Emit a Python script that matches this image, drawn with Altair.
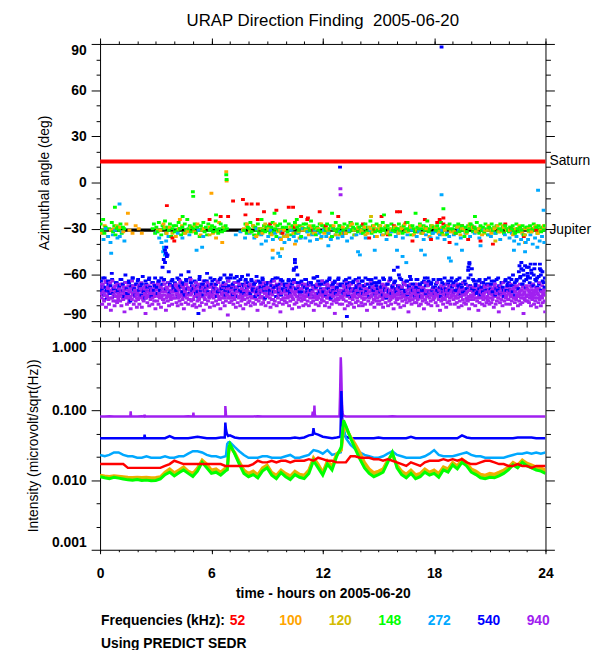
import altair as alt
import pandas as pd

# ---------------------------------------------------------------- data
FREQS = ["52", "100", "120", "148", "272", "540", "940"]
COLORS = ["#ff0000", "#ffa500", "#d4bc00", "#00ff00", "#00a8ff", "#0000ff", "#a020f0"]

TITLE = "URAP Direction Finding \u00a02005-06-20"
PLANETS = ["Saturn", "Jupiter"]
PLANET_ANGLES = [13.7, -30.9]
PLANET_COLORS = ["#ff0000", "#000000"]

# Azimuth (deg, values listed as magnitudes of negative angles), one string per hour, "x" = no sample
AZ_940 = [
    "72 68 75 79 66 71 77 73 64 81 70 74 68 76 79 72 65 83 71 75 69 77 73 80 67 74 71 78 70 76",
    "74 69 77 71 80 66 73 76 70 84 72 68 75 79 73 65 78 71 74 82 69 76 72 67 79 74 70 77 73 81",
    "71 76 68 79 73 66 75 81 70 74 77 69 72 85 75 67 78 71 73 80 68 76 74 70 79 72 66 77 74 82",
    "73 70 77 66 79 72 75 68 81 74 71 76 64 78 73 70 83 75 69 77 72 80 67 74 76 71 79 73 68 75",
    "70 75 67 78 72 80 69 74 77 65 73 79 71 76 68 82 74 70 78 66 75 72 79 69 76 73 63 77 71 80",
    "76 71 79 68 74 81 70 77 73 66 75 80 72 69 78 74 67 83 71 76 73 79 70 65 77 72 75 81 68 74",
    "72 78 69 75 80 67 73 77 71 64 79 74 70 76 82 68 75 72 78 66 74 80 71 77 69 73 86 75 70 78",
    "75 70 77 73 66 79 72 76 68 81 74 71 78 65 75 70 80 73 77 69 74 82 71 76 67 79 73 70 75 78",
    "71 77 73 80 68 75 70 78 66 74 79 72 76 69 83 73 77 70 75 67 79 74 71 78 65 76 72 80 69 74",
    "74 69 78 72 75 81 67 76 73 70 79 64 77 71 74 80 68 75 72 78 70 84 73 76 66 79 71 75 77 70",
    "73 78 70 75 67 80 72 77 69 74 82 71 76 65 79 73 70 78 74 68 76 81 72 75 69 77 73 66 80 74",
    "76 71 79 74 68 77 72 80 70 75 66 78 73 71 77 83 69 74 79 72 76 67 75 80 71 73 78 70 76 74",
    "72 77 69 80 74 71 78 66 75 73 81 70 76 72 79 68 74 77 71 85 73 69 78 75 70 76 72 79 67 74",
    "75 79 71 76 68 82 73 77 70 74 80 72 67 78 75 71 79 73 76 69 81 74 72 78 70 75 77 66 80 73",
    "74 70 78 73 80 67 76 72 79 75 69 83 73 77 71 75 68 79 74 70 78 72 76 81 69 74 77 71 75 79",
    "71 77 74 69 79 72 76 81 68 75 73 78 70 74 66 80 73 77 71 76 79 69 75 72 82 74 70 78 73 76",
    "76 72 79 70 75 81 73 68 77 74 71 80 66 76 73 78 70 75 84 72 77 69 74 79 71 76 73 68 78 75",
    "73 78 70 76 72 80 67 75 79 71 74 77 69 82 73 76 70 78 74 65 79 72 75 71 77 80 73 69 76 74",
    "75 71 78 73 69 80 74 76 70 83 72 77 68 75 79 73 71 76 74 81 70 78 72 67 77 75 79 71 74 73",
    "72 76 70 79 74 67 78 73 75 81 71 77 69 74 80 72 76 70 78 73 66 79 75 71 77 74 82 70 76 73",
    "74 79 71 76 73 68 80 75 72 77 70 83 74 78 71 75 69 79 73 76 72 80 67 75 78 71 74 77 70 79",
    "71 75 78 70 76 73 81 68 74 79 72 77 70 75 84 73 78 71 76 69 80 74 72 77 70 75 79 73 67 76",
    "76 72 79 74 70 77 73 82 69 75 78 71 76 73 68 80 74 77 71 79 75 70 78 73 85 72 76 69 77 74",
    "73 77 70 78 75 72 80 68 76 74 71 79 73 77 70 81 75 72 78 69 76 74 80 71 75 78 73 70 77 84",
]
AZ_940_B = [
    "70 66 73 68 76 71 65 74 69 72 67 75 70 64 73 68 71 77 66 72",
    "69 73 66 71 75 68 72 65 74 70 67 76 71 69 64 73 68 72 66 75",
    "72 67 74 69 65 71 76 68 73 66 70 74 67 72 69 65 75 70 68 73",
    "68 72 65 74 70 67 73 69 76 66 71 68 74 65 72 70 67 75 69 71",
    "71 66 73 68 75 70 64 72 67 74 69 71 66 73 68 76 70 65 72 69",
    "67 74 70 65 72 68 76 71 66 73 69 64 75 70 67 72 68 74 66 71",
    "73 68 71 66 74 69 72 65 76 70 67 73 68 71 75 66 72 69 64 74",
    "69 72 67 75 70 65 73 68 71 74 66 72 69 76 67 70 73 65 71 68",
    "72 66 74 69 71 67 75 70 64 73 68 72 66 74 70 67 75 69 72 65",
    "68 73 70 65 72 69 76 67 71 74 66 70 73 68 64 72 69 75 67 71",
    "71 67 74 69 66 73 70 75 68 72 65 71 74 67 70 73 66 69 76 68",
    "66 72 69 74 67 71 65 73 70 68 75 69 72 66 74 70 67 73 71 64",
    "73 69 66 72 75 68 71 67 74 70 65 72 68 76 69 73 66 71 70 74",
    "70 74 67 72 69 65 73 71 68 75 66 70 74 69 72 67 71 64 73 68",
    "67 71 75 68 73 70 66 72 69 74 71 65 73 68 70 76 67 72 69 71",
    "72 68 70 74 66 71 73 67 75 69 72 64 70 74 68 71 66 73 69 75",
    "69 73 67 71 75 68 72 65 70 74 67 72 69 76 66 71 73 68 70 72",
    "71 66 74 70 67 73 69 75 68 72 65 71 74 67 70 73 66 72 69 74",
    "68 72 70 65 73 69 74 67 71 76 68 70 72 66 74 69 71 67 73 70",
    "73 67 71 75 69 66 72 70 74 68 71 65 73 69 72 76 67 70 74 68",
    "70 74 68 72 66 71 75 69 67 73 70 72 65 74 68 71 69 76 67 72",
    "67 71 73 69 74 66 70 72 68 75 71 67 73 69 65 72 70 74 68 71",
    "72 69 66 73 70 75 68 71 67 74 69 72 66 70 73 68 75 71 69 67",
    "69 73 71 67 74 70 66 72 75 68 71 69 73 65 70 74 67 72 70 73",
]
AZ_540 = [
    "66 70 62 73 68 75 64 71 67 59 72 69 74 65 70",
    "68 63 71 66 74 60 69 72 65 77 67 62 70 73 66",
    "64 70 67 73 61 69 75 66 71 63 68 74 65 70 62",
    "67 72 64 70 62 55 50 44 42 47 58 66 71 63 69",
    "65 70 62 74 67 60 71 66 73 63 69 58 72 65 70",
    "69 64 72 67 75 61 70 66 73 64 68 59 71 67 74",
    "66 71 63 69 74 65 70 62 72 67 60 73 68 64 71",
    "62 68 73 65 70 61 74 67 63 71 66 72 64 69 60",
    "67 72 64 70 66 74 61 69 73 65 71 63 68 75 66",
    "70 65 72 67 63 71 68 74 62 69 66 73 64 70 67",
    "66 70 63 72 68 64 57 52 55 60 69 73 65 71 67",
    "68 63 71 66 73 65 70 62 74 67 61 72 66 69 64",
    "71 66 73 64 69 62 75 67 70 65 72 68 63 70 66",
    "67 72 64 70 66 73 62 69 74 65 71 63 68 72 66",
    "70 64 72 67 62 71 66 74 68 63 70 65 73 67 69",
    "65 71 67 73 63 69 75 66 70 62 72 68 57 64 71",
    "55 60 68 63 72 66 70 64 73 67 61 71 66 69 74",
    "68 63 71 66 74 65 70 62 72 67 64 73 66 70 63",
    "72 66 70 63 68 74 65 71 62 69 73 66 70 64 68",
    "66 71 64 70 67 62 73 68 65 71 66 69 57 53 60",
    "56 63 70 66 72 64 69 73 65 71 67 63 70 66 72",
    "69 64 71 66 73 63 70 67 72 65 68 74 64 70 66",
    "65 70 63 71 67 73 64 69 58 62 56 66 60 54 63",
    "59 55 62 57 66 60 53 64 68 61 56 70 58 65 62",
]
AZ_540_B = [
    "64 68 62 70 66 72 63 69 65 71", "67 63 70 65 72 64 68 62 69 66", "63 69 66 71 64 68 62 70 65 67",
    "68 64 70 66 63 69 65 71 64 67", "66 70 63 68 65 72 64 69 62 67", "69 65 71 63 68 66 70 64 67 62",
    "64 68 66 71 63 69 65 70 62 67", "60 66 62 68 64 70 61 67 63 65", "67 63 69 65 71 64 68 62 70 66",
    "65 70 64 68 62 67 71 63 69 66", "68 64 70 66 63 69 65 71 64 67", "63 69 65 70 67 62 68 64 71 66",
    "70 65 68 63 71 66 64 69 62 67", "66 71 63 68 65 70 64 69 67 62", "69 64 67 71 63 68 66 70 62 65",
    "64 68 62 70 66 71 63 67 65 69", "67 62 69 65 71 64 68 63 70 66", "63 69 66 70 64 67 62 71 65 68",
    "68 65 71 63 69 66 70 64 67 62", "65 70 63 68 66 71 64 69 62 67", "69 64 67 71 63 68 65 70 66 62",
    "66 71 64 69 62 68 65 70 63 67", "62 67 60 65 63 69 61 66 64 68", "61 65 59 67 63 62 66 60 64 68",
]
AZ_148 = [
    "27 31 24 33 29 x x 30 x 26 32 28 34 30 29",
    "31 27 33 29 30 x x x x x x x x x x",
    "x x x x x x x x x x x x 30 27 33",
    "29 32 26 31 34 28 30 25 33 29 31 27 35 30 28",
    "32 28 31 26 30 34 29 33 27 31 24 30 28 32 29",
    "30 27 33 29 31 35 28 30 26 32 29 34 27 31 30",
    "28 32 29 25 31 33 30 27 32 29 31 28 30 x x",
    "x x x x x x x x x x x 31 27 33 29",
    "30 26 32 28 34 29 31 27 33 30 24 31 28 32 29",
    "31 28 33 29 26 32 30 35 28 31 27 33 29 30 25",
    "29 32 27 31 34 28 30 26 33 29 31 28 35 30 27",
    "30 27 32 29 31 25 33 28 30 34 29 31 27 32 28",
    "32 29 31 27 33 30 28 35 29 31 26 32 30 28 33",
    "29 31 27 33 30 28 32 26 31 29 34 30 27 32 29",
    "31 28 33 30 27 32 29 31 25 33 28 30 32 27 31",
    "28 32 30 26 31 29 33 28 30 34 27 31 29 32 30",
    "30 27 31 29 33 28 32 30 26 31 29 34 28 30 32",
    "32 29 31 27 30 33 28 31 29 25 32 30 28 33 29",
    "29 31 28 32 30 26 33 29 31 28 34 30 27 31 30",
    "31 28 33 29 27 32 30 28 31 35 29 32 28 30 27",
    "28 32 29 31 26 30 33 28 31 29 32 27 30 34 29",
    "30 27 31 29 33 28 32 30 27 31 29 33 28 30 31",
    "32 29 30 28 31 33 27 30 32 29 31 28 34 30 29",
    "29 31 28 32 30 27 31 29 33 28 30 32 29 31 28",
]
AZ_272 = [
    "33 37 30 35 39 34 31 36", "35 32 38 x x x x x", "x x x x x x x x",
    "32 36 39 42 38 35 x x", "x 33 x 36 x x 34 x", "x x 31 x 35 x x x",
    "x x x x x x x x", "x x 34 x 32 x 36 x", "33 x 36 30 x 34 x 38",
    "35 31 37 33 x 36 32 39", "34 37 31 35 38 33 36 30", "36 32 38 34 31 37 33 35",
    "31 35 33 37 30 34 36 32", "35 33 38 31 36 x 34 x", "33 x 36 x 31 x 35 x",
    "x 34 x 37 x 32 x 35", "33 x 36 x 34 x 31 x", "35 32 x 37 34 x 36 33",
    "32 36 34 31 37 33 35 x", "34 x 31 36 x 33 x 35", "x 33 x 36 x 31 x 34",
    "35 x 33 x 37 x 34 x", "36 33 38 35 40 37 34 39", "37 34 40 36 42 38 35 39",
]
AZ_100 = [
    "33 28 35 31 30 x", "29 32 27 31 33 28", "30 33 x x x x", "x 31 27 33 29 x",
    "35 30 28 33 31 29", "32 27 34 30 x 29", "33 36 26 39 x x", "x x x x 30 27",
    "32 28 35 30 33 29", "30 34 27 32 37 31", "35 29 33 28 36 31", "31 34 29 33 30 27",
    "33 30 36 28 32 34", "29 33 31 27 34 30", "32 29 33 30 28 35", "30 34 28 32 31 29",
    "33 30 27 32 29 34", "31 28 33 30 35 29", "30 33 29 31 28 32", "32 29 34 30 33 27",
    "29 32 30 34 31 28", "33 30 28 32 29 31", "31 34 30 28 33 30", "30 32 29 33 31 28",
]
AZ_120 = [
    "x 30 x x 28", "x x x x x", "x x x x x", "31 x 29 x 33", "x 30 x 32 x", "28 x 31 x 34",
    "x 32 x 29 x", "x x x 31 28", "32 29 34 30 27", "30 33 28 31 35", "34 30 27 32 29",
    "31 28 33 30 36", "29 32 30 34 28", "33 30 28 31 29", "31 34 29 32 30", "28 31 33 30 29",
    "32 29 31 28 34", "30 33 29 31 28", "29 31 34 30 32", "33 28 30 32 29", "30 32 29 33 31",
    "31 29 32 28 30", "29 33 30 31 34", "32 30 28 31 29",
]
AZ_52 = [
    "x x x", "x x x", "x x x", "x x x", "x x x", "x x x", "x 22 x", "12 x 21",
    "14 24 19", "27 18 33", "16 29 22", "24 31 19", "28 35 22", "33 26 x", "27 36 31",
    "22 34 28", "19 26 38", "32 24 37", "26 23 39", "33 28 37", "29 38 x", "40 31 27",
    "30 x 35", "x 31 x",
]
# isolated samples: (hour, signed azimuth)
AZ_EXTRA = {
    "52": [(3.6, -15), (3.9, -36), (4.0, -38), (5.9, -24), (6.9, -22), (7.7, -11), (7.9, -14),
           (8.5, -14), (10.4, -16), (11.2, -23), (16.0, -19), (18.3, -24), (18.5, -27)],
    "100": [(6.8, 7), (6.82, 1), (6.0, -7), (1.5, -20), (4.3, -24), (9.3, -44), (10.5, -40), (22.9, -39)],
    "120": [(9.8, -43), (14.6, -22), (21.3, -38)],
    "148": [(6.8, 5), (6.82, 2), (5.0, -6), (5.02, -9), (0.8, -16), (4.45, -22), (6.25, -21),
            (12.5, -20), (15.3, -21), (20.2, -22), (17.0, -20), (9.4, -20), (10.6, -24), (18.5, -17)],
    "272": [(1.05, -14), (3.4, -45), (3.5, -47), (3.45, -43), (9.6, -46), (9.7, -48), (9.3, -49),
            (13.9, -45), (14.0, -47), (14.8, -44), (16.3, -48), (16.5, -52), (16.0, -44), (17.3, -44),
            (17.5, -47), (18.4, -8), (18.8, -49), (18.9, -51), (19.2, -40), (19.5, -44), (23.6, -5),
            (23.9, -18), (22.3, -44), (22.9, -45), (0.6, -46), (5.2, -44), (5.5, -42), (8.7, -40),
            (12.3, -41), (20.5, -41)],
    "540": [(3.55, -46), (3.6, -48), (3.5, -52), (10.5, -50), (10.45, -56), (12.93, 10), (19.9, -52),
            (19.85, -55), (22.6, -54), (22.7, -52), (22.8, -57), (23.0, -55), (23.2, -53), (23.4, -56),
            (23.7, -53), (23.75, -57), (13.3, -87), (5.3, -85), (18.4, 88)],
    "940": [(12.95, -4), (12.96, -8)],
}

# Intensity (1e-3 microvolt/sqrt(Hz)), 4 samples per hour (h, h+.25, h+.5, h+.75) + value at 24 h
INT_940 = ["82 82 83 82", "82 82 82 82", "82 83 82 82", "82 82 82 82", "82 82 82 83", "82 82 82 82",
           "82 82 82 82", "82 82 82 82", "82 82 83 82", "82 82 82 82", "82 82 82 82", "82 82 82 82",
           "82 82 82 82", "x 82 82 82", "82 82 82 82", "82 82 82 83", "82 82 82 82", "82 82 82 82",
           "82 82 82 82", "82 82 82 82", "82 82 82 82", "82 82 82 82", "82 82 82 82", "82 82 82 82"]
END_940 = 82
INT_540 = ["40 40 40 40", "40 40 40 40", "40 40 40 40", "40 40 40 43", "40 40 40 40", "41 42 41 40",
           "40 40 41 x", "44 41 40 40", "40 40 40 40", "40 40 40 40", "40 40 41 40", "41 44 x 45",
           "42 41 40 41", "x 42 40 40", "40 40 40 40", "41 40 40 40", "40 40 40 42", "40 40 40 40",
           "40 40 40 40", "40 40 44 41", "40 40 40 40", "40 40 40 40", "40 40 41 41", "41 41 40 40"]
END_540 = 40
INT_272 = ["23 22 23 25", "25 23 22 22", "21 21 22 21", "21 21 22 21", "21 22 22 24", "26 26 25 23",
           "22 22 21 22", "35 30 26 23", "21 21 21 22", "22 21 21 21", "22 23 21 21", "22 23 27 26",
           "24 27 23 24", "x 40 32 28", "25 23 22 21", "21 22 24 26", "23 22 21 21", "21 21 22 24",
           "27 23 22 22", "22 23 24 25", "23 22 22 21", "21 21 21 21", "22 23 24 24", "25 24 25 24"]
END_272 = 25
INT_148 = ["11.2 10.8 10.5 11.0", "10.7 10.4 10.1 10.0", "10.2 9.9 10.0 9.8", "9.9 10.4 12.0 13.0",
           "11.5 12.8 14.0 12.5", "11.3 13.5 18.0 15.0", "12.5 13.0 11.8 13.5", "33.0 24.0 17.0 12.5",
           "11.2 12.0 10.8 13.5", "15.0 11.8 10.5 12.8", "11.2 10.2 12.0 11.0", "10.5 12.5 19.0 15.0",
           "11.8 17.0 14.0 22.0", "30.0 60.0 40.0 28.0", "20.0 15.0 12.5 11.2", "12.0 13.0 18.0 25.0",
           "15.0 12.0 10.8 12.5", "10.5 11.2 13.0 11.8", "12.5 11.0 14.0 13.0", "16.5 14.5 18.0 16.0",
           "13.0 12.0 10.8 10.5", "11.0 10.8 11.5 12.5", "14.0 16.5 15.0 18.0", "16.0 15.0 14.0 13.5"]
END_148 = 12.5
INT_120 = ["11.5 11.2 11.0 11.3", "11.1 10.9 10.7 10.6", "10.7 10.6 10.7 10.5", "10.6 10.9 12.5 14.0",
           "12.2 13.5 15.0 13.0", "12.0 14.5 19.0 16.0", "13.5 14.0 12.5 14.5", "31.0 24.5 18.0 13.5",
           "12.0 13.0 11.5 14.5", "16.0 12.5 11.2 13.5", "12.0 11.0 13.0 11.8", "11.2 13.5 20.0 16.5",
           "12.5 18.0 15.0 23.0", "28.0 58.0 41.0 31.0", "23.0 17.0 13.5 12.0", "12.8 14.0 19.0 24.0",
           "16.0 13.0 11.5 13.5", "11.2 12.0 14.0 12.5", "13.5 12.0 15.0 14.0", "17.5 15.5 19.5 17.0",
           "14.0 13.0 11.5 11.2", "11.8 11.5 12.5 13.5", "15.0 17.5 16.0 19.0", "17.0 16.0 15.0 14.5"]
END_120 = 13.0
INT_100 = ["11.8 11.5 11.3 11.6", "11.4 11.2 11.0 10.9", "11.0 10.9 11.0 10.8", "10.9 11.2 13.0 14.5",
           "12.8 14.0 15.5 13.5", "12.5 15.0 19.5 17.0", "14.0 14.5 13.0 15.0", "30.0 25.0 18.5 14.0",
           "12.5 13.5 12.0 15.0", "16.5 13.0 11.8 14.0", "12.5 11.5 13.5 12.2", "11.8 14.0 21.0 17.0",
           "13.0 19.0 16.0 24.0", "27.0 55.0 42.0 33.0", "25.0 18.0 14.5 12.8", "13.5 14.5 19.5 23.0",
           "16.5 13.5 12.2 14.0", "12.0 12.5 14.5 13.0", "14.0 12.5 15.5 14.5", "18.0 16.0 20.0 18.0",
           "14.5 13.5 12.2 11.8", "12.5 12.2 13.0 14.0", "15.5 18.0 16.5 19.5", "17.5 16.5 15.5 15.0"]
END_100 = 14.0
INT_52 = ["17 17 17 17", "17 17 15 15", "15 15 15 15", "15 15 16 17", "19 18 17 17", "17 17 17 17",
          "17 17 17 16", "16 16 16 16", "16 17 19 18", "18 19 18 19", "19 18 19 19", "19 20 19 21",
          "20 19 19 18", "18 18 22 22", "21 21 21 20", "20 19 20 19", "18 17 16 18", "17 16 18 19",
          "19 19 20 19", "20 19 20 18", "17 17 18 19", "19 18 17 17", "16 16 17 16", "16 15 16 16"]
END_52 = 16
# short bursts: (hour, 1e-3 microvolt/sqrt(Hz))
INT_SPIKES = {
    "940": [(1.63, 82), (1.65, 97), (1.67, 82), (2.38, 82), (2.4, 87), (2.42, 82), (5.01, 82), (5.03, 93),
            (5.05, 82), (6.73, 82), (6.75, 116), (6.77, 100), (6.79, 82), (11.43, 82), (11.46, 96), (11.5, 82),
            (11.53, 82), (11.55, 118), (11.57, 90), (11.6, 82), (12.9, 82), (12.93, 160), (12.95, 300),
            (12.97, 580), (12.99, 420), (13.01, 250), (13.03, 140), (13.06, 95), (13.1, 84)],
    "540": [(2.38, 40), (2.4, 45), (2.43, 40), (6.72, 41), (6.75, 67), (6.78, 55), (6.82, 48), (6.86, 45),
            (6.9, 43), (11.46, 45), (11.5, 56), (11.54, 47), (12.95, 42), (12.98, 90), (13.0, 190),
            (13.02, 140), (13.04, 85), (13.06, 70), (13.09, 60), (13.13, 48), (13.18, 43)],
    "272": [(6.78, 22), (6.85, 33), (6.92, 35), (12.97, 25), (13.05, 55), (13.1, 60)],
    "148": [(6.85, 14), (6.95, 30), (13.12, 72)],
    "120": [(6.86, 14.5), (6.95, 29), (13.13, 66)],
    "100": [(6.86, 15), (6.95, 28), (13.14, 62)],
    "52": [],
}

# ---------------------------------------------------------------- tables
def azimuth_rows(rows, freq, extras=True):
    out = []
    for h, row in enumerate(rows):
        vals = row.split()
        n = len(vals)
        for j, v in enumerate(vals):
            if v != "x":
                out.append({"t": h + (j + 0.5) / n, "a": -float(v), "f": freq})
    if extras:
        for t, a in AZ_EXTRA.get(freq, []):
            out.append({"t": t, "a": float(a), "f": freq})
    return out


def intensity_rows(rows, end, freq):
    out = []
    for h, row in enumerate(rows):
        for j, v in enumerate(row.split()):
            if v != "x":
                out.append((h + j * 0.25, float(v) / 1000.0))
    out.append((24.0, end / 1000.0))
    for t, v in INT_SPIKES.get(freq, []):
        out.append((t, v / 1000.0))
    out.sort()
    return pd.DataFrame({"t": [p[0] for p in out], "v": [p[1] for p in out], "f": freq})


az_all = []
for rows, f, ex in [(AZ_52, "52", True), (AZ_100, "100", True), (AZ_120, "120", True),
                    (AZ_148, "148", True), (AZ_272, "272", True), (AZ_940, "940", True),
                    (AZ_940_B, "940", False), (AZ_540, "540", True), (AZ_540_B, "540", False)]:
    az_all += azimuth_rows(rows, f, ex)
az_df = pd.DataFrame(az_all).sort_values("t", kind="stable").reset_index(drop=True)

int_tables = {
    "940": intensity_rows(INT_940, END_940, "940"),
    "540": intensity_rows(INT_540, END_540, "540"),
    "272": intensity_rows(INT_272, END_272, "272"),
    "100": intensity_rows(INT_100, END_100, "100"),
    "120": intensity_rows(INT_120, END_120, "120"),
    "148": intensity_rows(INT_148, END_148, "148"),
    "52": intensity_rows(INT_52, END_52, "52"),
}
planet_df = pd.DataFrame({"name": PLANETS, "a": PLANET_ANGLES, "c": PLANET_COLORS})

# ---------------------------------------------------------------- styling / scales
FONT = "Liberation Sans"
W = 450
H_TOP = 280
H_BOT = 211
HOURS = list(range(25))
HOURS_MAJOR = [0, 6, 12, 18, 24]
AZ_MAJOR = [-90, -60, -30, 0, 30, 60, 90]
AZ_MINOR = [-80, -70, -50, -40, -20, -10, 10, 20, 40, 50, 70, 80]
INT_MAJOR = [0.001, 0.01, 0.1, 1.0]
INT_MINOR = [10 ** (k / 3.0) for k in (-8, -7, -5, -4, -2, -1)]
DOT = "M-1.3,-1H1.3V1H-1.3Z"   # small 4:3 dash used for each direction-finding sample

xs = alt.Scale(domain=[0, 24], nice=False, zero=False)
ya = alt.Scale(domain=[-90, 90], nice=False, zero=False)
yi = alt.Scale(type="log", domain=[0.001, 1.0], nice=False)
color_of = dict(zip(FREQS, COLORS))


def tick_axis(orient, values, size):
    return alt.Axis(orient=orient, values=values, tickSize=size, labels=False, title=None,
                    domain=False, grid=False)


def axis_layer(df, yfield, yscale, xaxis, yaxis):
    return alt.Chart(df).mark_point(opacity=0).encode(
        x=alt.X("t:Q", scale=xs, axis=xaxis),
        y=alt.Y(f"{yfield}:Q", scale=yscale, axis=yaxis),
    )


# ---------------------------------------------------------------- top panel
dummy_a = pd.DataFrame({"t": [0, 24], "a": [-90, 90]})
top_axes = [
    axis_layer(dummy_a, "a", ya, tick_axis("bottom", HOURS, 6),
               alt.Axis(orient="left", values=AZ_MAJOR, tickSize=9, labelPadding=5, labelFlush=True,
                        title="Azimuthal angle (deg)", titlePadding=11, domain=False, grid=False)),
    axis_layer(dummy_a, "a", ya, tick_axis("top", HOURS_MAJOR, 6), tick_axis("left", AZ_MINOR, 4)),
    axis_layer(dummy_a, "a", ya, tick_axis("top", HOURS, 3), tick_axis("right", AZ_MAJOR, 9)),
    axis_layer(dummy_a, "a", ya, None, tick_axis("right", AZ_MINOR, 5)),
]

jupiter_rule = alt.Chart(planet_df).transform_filter(alt.datum.name == "Jupiter").mark_rule(
    strokeWidth=3.5).encode(y=alt.Y("a:Q", scale=ya, axis=None), color=alt.Color("c:N", scale=None))
saturn_rule = alt.Chart(planet_df).transform_filter(alt.datum.name == "Saturn").mark_rule(
    strokeWidth=4).encode(y=alt.Y("a:Q", scale=ya, axis=None), color=alt.Color("c:N", scale=None))

scatter = alt.Chart(az_df).mark_point(shape=DOT, size=9, filled=True, opacity=1, clip=True).encode(
    x=alt.X("t:Q", scale=xs, axis=None),
    y=alt.Y("a:Q", scale=ya, axis=None),
    color=alt.Color("f:N", scale=alt.Scale(domain=FREQS, range=COLORS), legend=None),
)

planet_text = alt.Chart(planet_df).mark_text(
    align="left", baseline="middle", dx=4, font=FONT, fontSize=14, color="black"
).encode(x=alt.value(W), y=alt.Y("a:Q", scale=ya, axis=None), text="name:N")

top = alt.layer(jupiter_rule, scatter, saturn_rule, planet_text, *top_axes).resolve_axis(
    x="independent", y="independent"
).properties(
    width=W, height=H_TOP,
    title=alt.Title(TITLE, font=FONT, fontSize=17, fontWeight="normal", color="black",
                    anchor="middle", frame="group", offset=8),
)

# ---------------------------------------------------------------- bottom panel
dummy_i = pd.DataFrame({"t": [0, 24], "v": [0.001, 1.0]})
bot_axes = [
    axis_layer(dummy_i, "v", yi,
               alt.Axis(orient="bottom", values=HOURS_MAJOR, tickSize=4, labelPadding=13, labelFlush=False,
                        title="time - hours on 2005-06-20", titlePadding=6, titleFontWeight="bold",
                        domain=False, grid=False),
               alt.Axis(orient="left", values=INT_MAJOR, tickSize=9, labelPadding=5, labelFlush=True,
                        format=".3f", title="Intensity (microvolt/sqrt(Hz))", titlePadding=11,
                        domain=False, grid=False)),
    axis_layer(dummy_i, "v", yi, tick_axis("bottom", HOURS, 2), tick_axis("left", INT_MINOR, 4)),
    axis_layer(dummy_i, "v", yi, tick_axis("top", HOURS, 4), tick_axis("right", INT_MAJOR, 9)),
    axis_layer(dummy_i, "v", yi, None, tick_axis("right", INT_MINOR, 5)),
]

LINE_W = {"940": 2.5, "540": 2.5, "272": 2.5, "100": 3, "120": 3, "148": 3, "52": 2.5}
lines = []
for f in ["940", "540", "272", "100", "120", "148", "52"]:
    lines.append(
        alt.Chart(int_tables[f]).mark_line(strokeWidth=LINE_W[f], color=color_of[f], clip=True).encode(
            x=alt.X("t:Q", scale=xs, axis=None),
            y=alt.Y("v:Q", scale=yi, axis=None),
        )
    )

legend_layers = []
key = pd.DataFrame({"k": [0]})
LEG_Y1 = 283
LEG_Y2 = 306
legend_layers.append(alt.Chart(key).mark_text(
    align="left", baseline="middle", font=FONT, fontSize=14, fontWeight="bold", color="black"
).encode(x=alt.value(1), y=alt.value(LEG_Y1), text=alt.value("Frequencies (kHz):")))
for i, (lab, col) in enumerate(zip(FREQS, COLORS)):
    legend_layers.append(alt.Chart(key).mark_text(
        align="left", baseline="middle", font=FONT, fontSize=14, fontWeight="bold", color=col
    ).encode(x=alt.value(131 + 50 * i), y=alt.value(LEG_Y1), text=alt.value(lab)))
legend_layers.append(alt.Chart(key).mark_text(
    align="left", baseline="middle", font=FONT, fontSize=14, fontWeight="bold", color="black"
).encode(x=alt.value(1), y=alt.value(LEG_Y2), text=alt.value("Using PREDICT SEDR")))

bottom = alt.layer(*lines, *legend_layers, *bot_axes).resolve_axis(
    x="independent", y="independent"
).properties(width=W, height=H_BOT)

chart = alt.vconcat(top, bottom, spacing=20, bounds="flush").properties(
    padding={"left": 18, "top": 0, "right": 0, "bottom": 0},
    background="white",
).configure_view(
    stroke="black", strokeWidth=1
).configure_axis(
    labelFont=FONT, labelFontSize=14, labelFontWeight="bold", labelColor="black",
    titleFont=FONT, titleFontSize=14, titleFontWeight="normal", titleColor="black",
    tickColor="black", tickWidth=1, labelOverlap=False,
)

chart.save("out.html", embed_options={"renderer": "svg", "actions": False})
